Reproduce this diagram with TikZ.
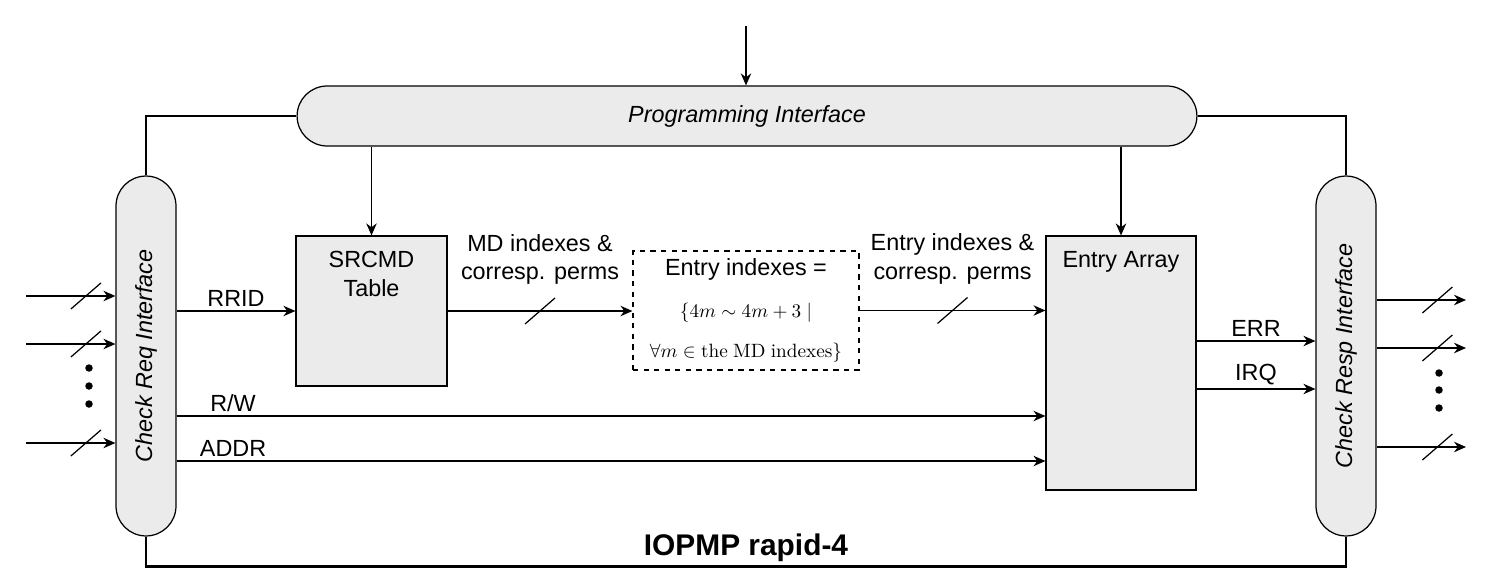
\documentclass[tikz,border=0pt]{standalone}
\usepackage{fontspec}
\setsansfont{Liberation Sans}
\usetikzlibrary{arrows.meta,decorations.markings,positioning}

\definecolor{blockgray}{HTML}{EBEBEB}

\tikzset{
  block/.style={draw, fill=blockgray, line width=0.7pt},
  pill/.style={block, rounded corners=0.6cm},
  sig/.style={-{Stealth[length=0.24cm,width=0.21cm]}, line width=0.7pt},
  bus/.style={sig, postaction={decorate, decoration={markings,
      mark=at position #1 with {\draw[-, line width=0.7pt] (-0.3cm,-0.26cm) -- (0.3cm,0.26cm);}}}},
  bus/.default=0.5,
  lbl/.style={inner sep=2pt},
  frame/.style={line width=1.4pt},
}

\begin{document}
\begin{tikzpicture} [x=0.02cm, y=-0.02cm, font=\sffamily\fontsize{13.3}{16}\selectfont]
\useasboundingbox (0,0) rectangle (1494,584);

% interfaces
\node [pill, minimum width=18cm, minimum height=1.2cm] (prog) at (747,116) {\itshape Programming Interface};
\node [pill, minimum width=1.2cm, minimum height=7.2cm] (req) at (146,356) {\rotatebox{90}{\itshape Check Req Interface}};
\node [pill, minimum width=1.2cm, minimum height=7.2cm] (resp) at (1346,356) {\rotatebox{90}{\itshape Check Resp Interface}};

% blocks
\node [block, minimum width=3.02cm, minimum height=3cm,
  label={[anchor=north, align=center, yshift=-0.2cm]north:SRCMD\\Table}] (srcmd) at (371.5,311) {};
\node [block, minimum width=3cm, minimum height=5.08cm,
  label={[anchor=north, yshift=-0.2cm]north:Entry Array}] (array) at (1121,363) {};
\node [draw, dashed, line width=0.7pt, minimum width=4.52cm, minimum height=2.38cm, align=center] (dash) at (746,310.5)
  {Entry indexes =\\[8pt]
   {\fontsize{10.95}{13}\selectfont $\{4m \sim 4m+3 \mid$}\\[7pt]
   {\fontsize{10.95}{13}\selectfont $\forall m \in \mathrm{the\ MD\ indexes}\}$}};

\node [font=\sffamily\bfseries\fontsize{17}{20}\selectfont, anchor=base] (title) at (746,555) {IOPMP rapid-4};

% frame
\draw [frame] (req.north) -- (req.north |- prog.west) -- (prog.west);
\draw [frame] (prog.east) -- (prog.east -| resp.north) -- (resp.north);
\draw [frame] (req.south) -- ++(0,30) -| (resp.south);

% programming
\coordinate (progin) at (746,26);
\draw [sig] (progin) -- (progin |- prog.north);
\draw [sig] (srcmd.north |- prog.south) -- (srcmd.north);
\draw [sig] (array.north |- prog.south) -- (array.north);

% check path
\draw [sig] (req.east |- srcmd.west) -- node [lbl, above] {RRID} (srcmd.west);
\draw [bus] (srcmd.east) -- node [lbl, above=0.45cm, align=center] {MD indexes \&\\corresp. perms} (srcmd.east -| dash.west);
\draw [bus] (dash.east) -- node [lbl, above=0.45cm, align=center] {Entry indexes \&\\corresp. perms} (dash.east -| array.west);

\coordinate (rw) at (0,416);
\coordinate (addr) at (0,461);
\draw [sig] (req.east |- rw) -- node [lbl, above, pos=0.065] {R/W} (array.west |- rw);
\draw [sig] (req.east |- addr) -- node [lbl, above, pos=0.065] {ADDR} (array.west |- addr);

\coordinate (err) at (0,341);
\coordinate (irq) at (0,389);
\draw [sig] (array.east |- err) -- node [lbl, above] {ERR} (resp.west |- err);
\draw [sig] (array.east |- irq) -- node [lbl, above] {IRQ} (resp.west |- irq);

% ports
\foreach \y [count=\i] in {296,344,443} {
  \coordinate (in\i) at (26,\y);
  \draw [bus=0.67] (in\i) -- (in\i -| req.west);
}
\foreach \y [count=\i] in {300,348,447} {
  \coordinate (out\i) at (1466,\y);
  \draw [bus=0.68] (out\i -| resp.east) -- (out\i);
}
\foreach \y in {368,386,404} \fill (89,\y) circle (0.075cm);
\foreach \y in {373,390,408} \fill (1439,\y) circle (0.075cm);
\end{tikzpicture}
\end{document}
